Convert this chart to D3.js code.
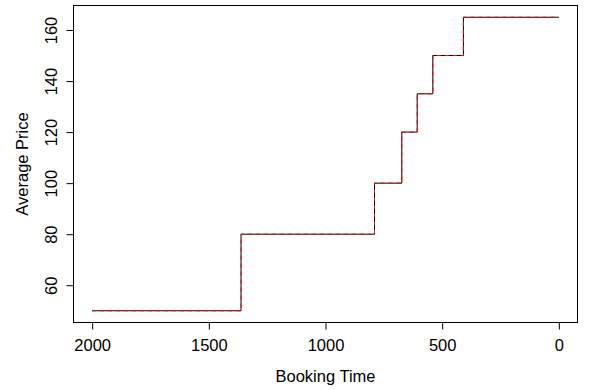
<!DOCTYPE html>
<html><head><meta charset="utf-8">
<script src="https://cdn.jsdelivr.net/npm/d3@7"></script>
<style>body{margin:0;background:#fff}svg{display:block;font-family:"Liberation Sans",Arial,sans-serif}</style>
</head><body><svg id="c" width="595" height="390"></svg>
<script>
const bookingTime = [2000, 1362, 790, 673, 607, 540, 409, 0];
const avgPrice = [50, 80, 100, 120, 135, 150, 165, 165];
const xTicks = [2000, 1500, 1000, 500, 0];
const yTicks = [60, 80, 100, 120, 140, 160];

const svg = d3.select("#c");
const L = 73.5, R = 577.5, T = 5.5, B = 322.5;
const xr = [2000, 0], yr = [50, 165];
const xpad = (xr[0]-xr[1])*0.04, ypad = (yr[1]-yr[0])*0.04;
const x = d3.scaleLinear().domain([xr[0]+xpad, xr[1]-xpad]).range([L, R]);
const y = d3.scaleLinear().domain([yr[0]-ypad, yr[1]+ypad]).range([B, T]);
const FONT = "Liberation Sans, Arial, sans-serif";

const data = bookingTime.map((d,i)=>({x:d,y:avgPrice[i]}));
const line = d3.line().x(d=>x(d.x)).y(d=>y(d.y)).curve(d3.curveStepAfter);
svg.append("path").attr("d", line(data)).attr("fill","none").attr("stroke","#000").attr("stroke-width",1);
svg.append("path").attr("d", line(data)).attr("fill","none").attr("stroke","#ff0000").attr("stroke-width",1).attr("stroke-dasharray","4,4");

svg.append("rect").attr("x",L).attr("y",T).attr("width",R-L).attr("height",B-T).attr("fill","none").attr("stroke","#000").attr("stroke-width",1);

const xa = svg.append("g").attr("transform",`translate(0,${B})`)
  .call(d3.axisBottom(x).tickValues(xTicks).tickSize(7).tickFormat(d3.format("d")));
xa.select(".domain").remove();
xa.attr("font-size",16.5).attr("font-family",FONT);
xa.selectAll("text").attr("fill","#000").attr("dy",null).attr("y",28.2);
svg.append("line").attr("x1",x(2000)).attr("x2",x(0)).attr("y1",B).attr("y2",B).attr("stroke","#000");

const ya = svg.append("g").attr("transform",`translate(${L},0)`)
  .call(d3.axisLeft(y).tickValues(yTicks).tickSize(7).tickFormat(d3.format("d")));
ya.select(".domain").remove();
ya.attr("font-size",16.5).attr("font-family",FONT);
ya.selectAll("text").attr("fill","#000").attr("text-anchor","middle").attr("dy",null)
  .attr("x",0).attr("y",0).attr("transform",`translate(${56.5-L},0) rotate(-90)`);
svg.append("line").attr("x1",L).attr("x2",L).attr("y1",y(60)).attr("y2",y(160)).attr("stroke","#000");

svg.append("text").attr("x",(L+R)/2).attr("y",382).attr("text-anchor","middle").attr("font-size",16.5).attr("font-family",FONT).text("Booking Time");
svg.append("text").attr("transform",`translate(27.5,${(T+B)/2}) rotate(-90)`).attr("text-anchor","middle").attr("font-size",16.5).attr("font-family",FONT).text("Average Price");
</script></body></html>
